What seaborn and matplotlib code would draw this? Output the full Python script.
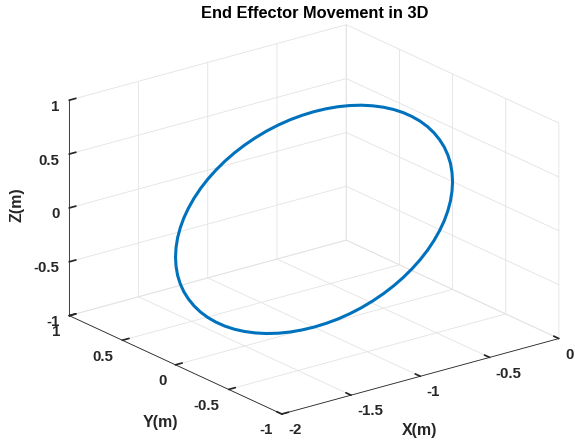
import matplotlib
matplotlib.use("Agg")
import matplotlib.pyplot as plt
import seaborn as sns

# end effector path (circle in the x-z plane, y = 0)
x_pos = [0.000, -0.004, -0.015, -0.034, -0.060, -0.094, -0.134, -0.181, -0.234,
         -0.293, -0.357, -0.426, -0.500, -0.577, -0.658, -0.741, -0.826, -0.913,
         -1.000, -1.087, -1.174, -1.259, -1.342, -1.423, -1.500, -1.574, -1.643,
         -1.707, -1.766, -1.819, -1.866, -1.906, -1.940, -1.966, -1.985, -1.996,
         -2.000, -1.996, -1.985, -1.966, -1.940, -1.906, -1.866, -1.819, -1.766,
         -1.707, -1.643, -1.574, -1.500, -1.423, -1.342, -1.259, -1.174, -1.087,
         -1.000, -0.913, -0.826, -0.741, -0.658, -0.577, -0.500, -0.426, -0.357,
         -0.293, -0.234, -0.181, -0.134, -0.094, -0.060, -0.034, -0.015, -0.004, 0.000]
z_pos = [0.000, 0.087, 0.174, 0.259, 0.342, 0.423, 0.500, 0.574, 0.643,
         0.707, 0.766, 0.819, 0.866, 0.906, 0.940, 0.966, 0.985, 0.996,
         1.000, 0.996, 0.985, 0.966, 0.940, 0.906, 0.866, 0.819, 0.766,
         0.707, 0.643, 0.574, 0.500, 0.423, 0.342, 0.259, 0.174, 0.087,
         0.000, -0.087, -0.174, -0.259, -0.342, -0.423, -0.500, -0.574, -0.643,
         -0.707, -0.766, -0.819, -0.866, -0.906, -0.940, -0.966, -0.985, -0.996,
         -1.000, -0.996, -0.985, -0.966, -0.940, -0.906, -0.866, -0.819, -0.766,
         -0.707, -0.643, -0.574, -0.500, -0.423, -0.342, -0.259, -0.174, -0.087, 0.000]
y_pos = [0.0] * len(x_pos)

x_ticks = [-2, -1.5, -1, -0.5, 0]
y_ticks = [-1, -0.5, 0, 0.5, 1]
z_ticks = [-1, -0.5, 0, 0.5, 1]
x_labels = ['-2', '-1.5', '-1', '-0.5', '0']
y_labels = ['-1', '-0.5', '0', '0.5', '1']
z_labels = ['-1', '-0.5', '0', '0.5', '1']

sns.set_theme(style="white")
plt.rcParams['font.family'] = ['Liberation Sans', 'DejaVu Sans']

fig = plt.figure(figsize=(5.75, 4.41), dpi=100)
ax = fig.add_subplot(projection='3d', proj_type='ortho')
ax.set_position([0.0365, 0.025, 1.0, 0.93])

ax.plot(x_pos, y_pos, z_pos, color='#0072BD', linewidth=2.2)

ax.set_xlim(-2, 0)
ax.set_ylim(-1, 1)
ax.set_zlim(-1, 1)
ax.set_xticks(x_ticks)
ax.set_yticks(y_ticks)
ax.set_zticks(z_ticks)
ax.set_xticklabels(x_labels, ha='left')
ax.set_yticklabels(y_labels, ha='right')
ax.set_zticklabels(z_labels, ha='right')

ax.view_init(elev=20.8, azim=-127.5)
ax.set_box_aspect((1, 1, 0.66), zoom=1.29)

for axis in (ax.xaxis, ax.yaxis, ax.zaxis):
    axis.set_pane_color((1, 1, 1, 0))
    axis.pane.set_edgecolor('#d4d4d4')
    axis._axinfo['grid']['color'] = '#e3e3e3'
    axis._axinfo['grid']['linewidth'] = 0.6
    axis.line.set_color('#262626')
    axis.line.set_linewidth(0.6)
    axis._axinfo['tick']['inward_factor'] = 0.0
    axis._axinfo['tick']['outward_factor'] = 0.3

ax.tick_params(labelsize=10.8, colors='#262626')
ax.tick_params(axis='x', pad=-3.5)
ax.tick_params(axis='y', pad=-3)
ax.tick_params(axis='z', pad=-5)
for lab in ax.get_xticklabels() + ax.get_yticklabels() + ax.get_zticklabels():
    lab.set_fontweight('bold')

# axis titles placed where the reference has them
fig.text(420 / 575, 1 - 430 / 441, 'X(m)', fontsize=11.5, fontweight='bold',
         color='#262626', ha='center', va='center')
fig.text(160 / 575, 1 - 423 / 441, 'Y(m)', fontsize=11.5, fontweight='bold',
         color='#262626', ha='center', va='center')
fig.text(17 / 575, 1 - 205 / 441, 'Z(m)', fontsize=11.5, fontweight='bold',
         color='#262626', ha='center', va='center', rotation=90)
fig.text(315 / 575, 1 - 13 / 441, 'End Effector Movement in 3D', fontsize=11.8,
         fontweight='bold', color='#000000', ha='center', va='center')

fig.savefig('out.png', dpi=100)
